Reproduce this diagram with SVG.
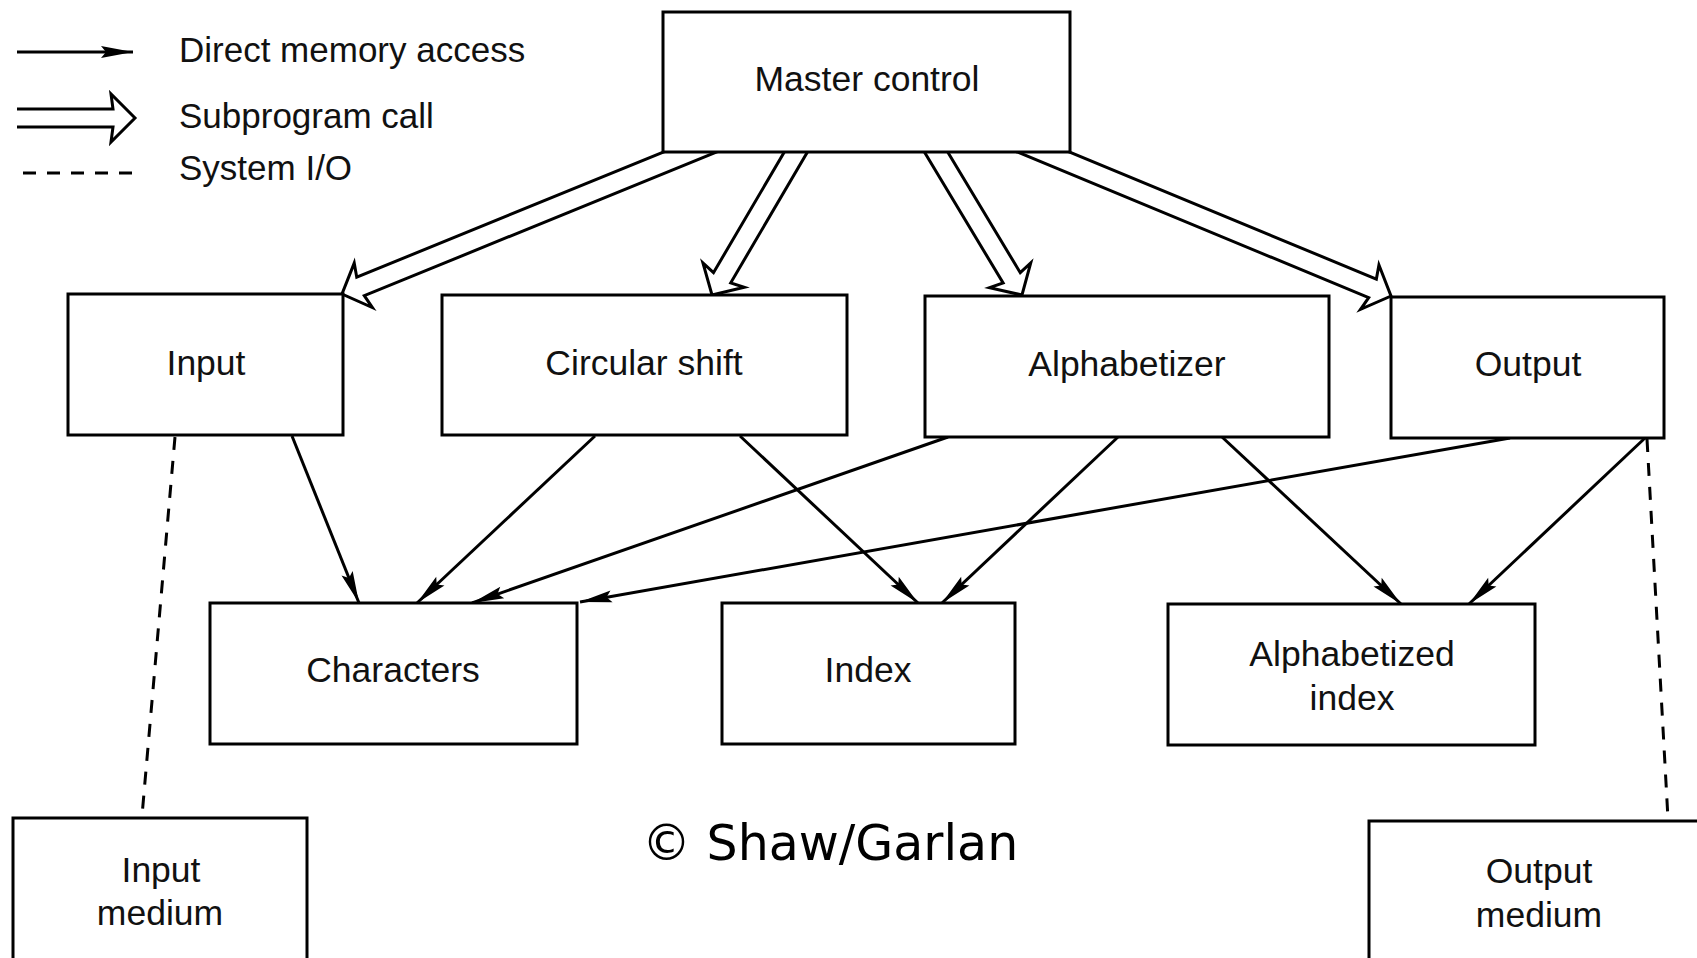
<svg xmlns="http://www.w3.org/2000/svg" width="1697" height="958" viewBox="0 0 1697 958">
<style>
.box{fill:#fff;stroke:#000;stroke-width:3}
.lbl{font-family:"Liberation Sans",Arial,Helvetica,sans-serif;font-size:35.5px;fill:#111;text-anchor:middle}
.leg{font-family:"Liberation Sans",Arial,Helvetica,sans-serif;font-size:35px;fill:#111}
.dma{fill:none;stroke:#000;stroke-width:3;marker-end:url(#ah)}
.call{fill:#fff;stroke:#000;stroke-width:3;stroke-linejoin:miter}
.io{fill:none;stroke:#000;stroke-width:3;stroke-dasharray:13 11}
.copy{font-family:"DejaVu Sans",Verdana,sans-serif;font-size:49px;fill:#000}
</style>
<defs>
<marker id="ah" markerUnits="userSpaceOnUse" viewBox="-33 -7 34 14" refX="0" refY="0" markerWidth="34" markerHeight="14" orient="auto">
<path d="M0,0 L-32,-6 L-27,0 L-32,6 Z" fill="#000"/>
</marker>
</defs>
<rect width="1697" height="958" fill="#fff"/>
<g id="legend">
<line x1="17" y1="52" x2="133" y2="52" class="dma"/>
<path class="call" transform="translate(135,118)" d="M-118,-9 L-22,-9 L-24,-24 L0,0 L-24,24 L-22,9 L-118,9"/>
<line x1="23" y1="173" x2="133" y2="173" class="io"/>
<text class="leg" x="179" y="62">Direct memory access</text>
<text class="leg" x="179" y="128">Subprogram call</text>
<text class="leg" x="179" y="180">System I/O</text>
</g>
<g id="connectors">
<path class="call" transform="translate(342,294) rotate(157.8)" d="M-420,-10 L-20,-10 L-23,-24 L0,0 L-23,24 L-20,10 L-420,10"/>
<path class="call" transform="translate(712,295) rotate(120.4)" d="M-200,-10 L-20,-10 L-23,-24 L0,0 L-23,24 L-20,10 L-200,10"/>
<path class="call" transform="translate(1022,295) rotate(59)" d="M-200,-10 L-20,-10 L-23,-24 L0,0 L-23,24 L-20,10 L-200,10"/>
<path class="call" transform="translate(1391,296) rotate(22.5)" d="M-420,-10 L-20,-10 L-23,-24 L0,0 L-23,24 L-20,10 L-420,10"/>
<line class="dma" x1="292" y1="436" x2="359" y2="603"/>
<line class="dma" x1="595" y1="436" x2="417" y2="603"/>
<line class="dma" x1="740" y1="436" x2="918" y2="603"/>
<line class="dma" x1="948" y1="437" x2="472" y2="603"/>
<line class="dma" x1="1118" y1="437" x2="942" y2="603"/>
<line class="dma" x1="1222" y1="437" x2="1401" y2="604"/>
<line class="dma" x1="1510" y1="438" x2="580" y2="602"/>
<line class="dma" x1="1645" y1="438" x2="1469" y2="604"/>
<line class="io" x1="175" y1="437" x2="142" y2="816"/>
<line class="io" x1="1647" y1="439" x2="1668" y2="819"/>
</g>
<g id="master-control"><rect class="box" x="663" y="12" width="407" height="140"/><text class="lbl" x="867" y="91">Master control</text></g>
<g id="input"><rect class="box" x="68" y="294" width="275" height="141"/><text class="lbl" x="206" y="375">Input</text></g>
<g id="circular-shift"><rect class="box" x="442" y="295" width="405" height="140"/><text class="lbl" x="644" y="375">Circular shift</text></g>
<g id="alphabetizer"><rect class="box" x="925" y="296" width="404" height="141"/><text class="lbl" x="1127" y="376">Alphabetizer</text></g>
<g id="output"><rect class="box" x="1391" y="297" width="273" height="141"/><text class="lbl" x="1528" y="376">Output</text></g>
<g id="characters"><rect class="box" x="210" y="603" width="367" height="141"/><text class="lbl" x="393" y="682">Characters</text></g>
<g id="index"><rect class="box" x="722" y="603" width="293" height="141"/><text class="lbl" x="868" y="682">Index</text></g>
<g id="alphabetized-index"><rect class="box" x="1168" y="604" width="367" height="141"/><text class="lbl" x="1352" y="666">Alphabetized</text><text class="lbl" x="1352" y="710">index</text></g>
<g id="input-medium"><rect class="box" x="13" y="818" width="294" height="160"/><text class="lbl" x="161" y="882">Input</text><text class="lbl" x="160" y="925">medium</text></g>
<g id="output-medium"><rect class="box" x="1369" y="821" width="350" height="160"/><text class="lbl" x="1539" y="883">Output</text><text class="lbl" x="1539" y="927">medium</text></g>
<text class="copy" x="642" y="860">© Shaw/Garlan</text>
</svg>
